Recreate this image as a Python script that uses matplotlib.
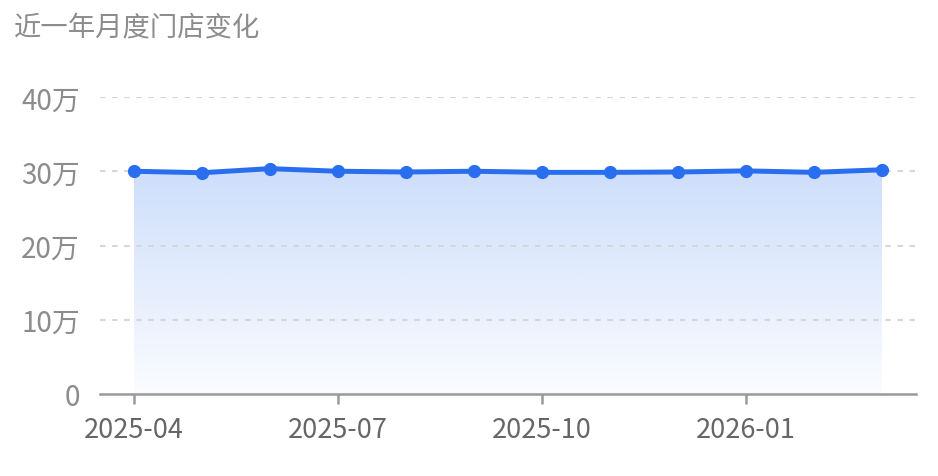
import numpy as np
import matplotlib.pyplot as plt
from matplotlib.colors import LinearSegmentedColormap
from matplotlib.patches import Polygon

plt.rcParams['font.family'] = ['Noto Sans CJK SC', 'DejaVu Sans']

# data
months = ["2025-04", "2025-05", "2025-06", "2025-07", "2025-08", "2025-09",
          "2025-10", "2025-11", "2025-12", "2026-01", "2026-02", "2026-03"]
stores = [300000, 298000, 303500, 300000, 299000, 300000,
          298500, 298500, 299000, 300500, 298500, 302000]
yticks = [0, 100000, 200000, 300000, 400000]
ytick_labels = ["0", "10万", "20万", "30万", "40万"]
xtick_idx = [0, 3, 6, 9]

line_color = "#2a6ef0"

fig = plt.figure(figsize=(9.38, 4.77), dpi=100)
ax = fig.add_axes([100 / 938, 1 - 395 / 477, 816 / 938, 297 / 477])

x = np.arange(len(months))
y = np.array(stores)

ax.set_xlim(-0.5, len(months) - 0.5)
ax.set_ylim(0, 400000)

# gradient area under the line
cmap = LinearSegmentedColormap.from_list("fade", ["#fbfcff", "#cddefb"])
grad = np.linspace(0, 1, 256).reshape(-1, 1)
img = ax.imshow(grad, cmap=cmap, aspect="auto", origin="lower",
                extent=[x[0], x[-1], 0, y.max()], zorder=1)
poly = Polygon(np.column_stack([np.r_[x[0], x, x[-1]], np.r_[0, y, 0]]),
               closed=True, facecolor="none", edgecolor="none")
ax.add_patch(poly)
img.set_clip_path(poly)

ax.plot(x, y, color=line_color, lw=3.6, marker="o", markersize=8.5,
        zorder=4, clip_on=False)

# grid (drawn over the fill)
for v in yticks[1:]:
    ax.axhline(v, color="#d4d6da", lw=1.5, linestyle=(0, (2.6, 3.2)), zorder=2)

for s in ["top", "right", "left"]:
    ax.spines[s].set_visible(False)
ax.spines["bottom"].set_color("#999999")
ax.spines["bottom"].set_linewidth(1.8)

ax.set_yticks(yticks)
ax.set_yticklabels(ytick_labels)
ax.set_xticks(xtick_idx)
ax.set_xticklabels([months[i] for i in xtick_idx])
ax.tick_params(axis="y", length=0, pad=14.5, labelsize=20, labelcolor="#8c8c8c")
ax.tick_params(axis="x", length=7.5, width=1.8, color="#999999", pad=8,
               labelsize=19.5, labelcolor="#666666")

fig.text(14 / 938, 1 - 28 / 477, "近一年月度门店变化", fontsize=19.7,
         color="#8c8c8c", va="center", ha="left")

fig.savefig("out.png", dpi=100)
